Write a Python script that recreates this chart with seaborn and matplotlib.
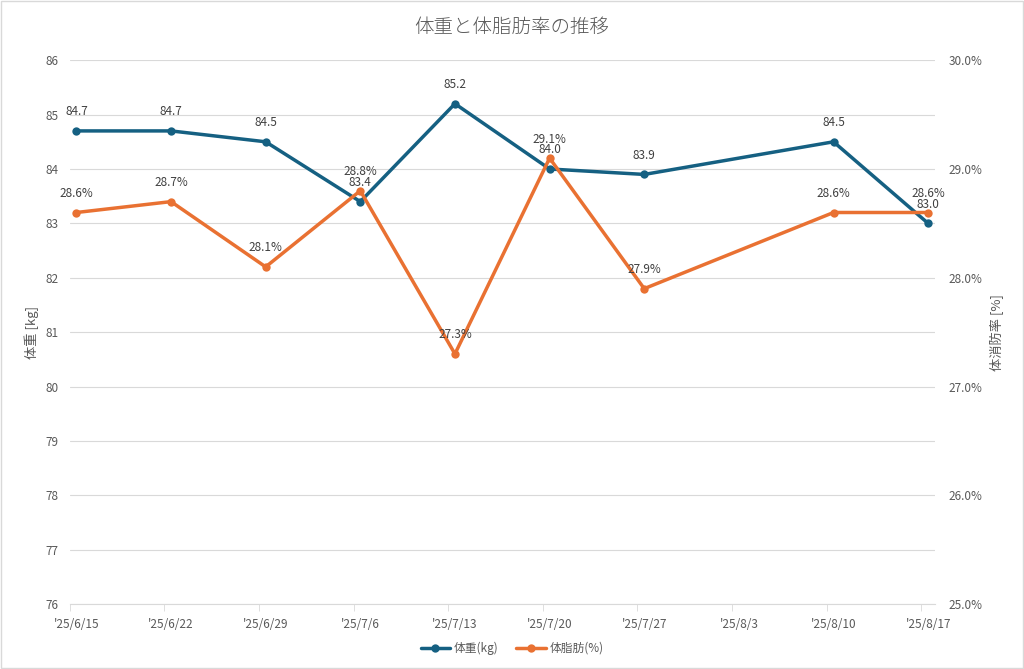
import pandas as pd
import seaborn as sns
import matplotlib.pyplot as plt
from matplotlib.ticker import FuncFormatter, MultipleLocator

# data (no entry for 8/3)
dates = ["2025-06-15", "2025-06-22", "2025-06-29", "2025-07-06", "2025-07-13",
         "2025-07-20", "2025-07-27", "2025-08-10", "2025-08-17"]
weight = [84.7, 84.7, 84.5, 83.4, 85.2, 84.0, 83.9, 84.5, 83.0]
fat = [28.6, 28.7, 28.1, 28.8, 27.3, 29.1, 27.9, 28.6, 28.6]
tick_dates = ["2025-06-15", "2025-06-22", "2025-06-29", "2025-07-06", "2025-07-13",
              "2025-07-20", "2025-07-27", "2025-08-03", "2025-08-10", "2025-08-17"]

start = pd.Timestamp("2025-06-15")
df = pd.DataFrame({"date": pd.to_datetime(dates), "weight": weight, "fat": fat})
df["day"] = (df["date"] - start).dt.days
tick_days = [(pd.Timestamp(d) - start).days for d in tick_dates]
tick_labels = ["'25/{}/{}".format(pd.Timestamp(d).month, pd.Timestamp(d).day) for d in tick_dates]

sns.set_style("white")
plt.rcParams["font.family"] = ["Noto Sans CJK JP", "DejaVu Sans"]

blue = "#156082"
orange = "#E97132"
grey = "#595959"

fig = plt.figure(figsize=(10.24, 6.69), dpi=100)
ax = fig.add_axes([0.068, 0.097, 0.845, 0.813])
ax2 = ax.twinx()

sns.lineplot(data=df, x="day", y="weight", ax=ax, color=blue, marker="o",
             markersize=6, markeredgewidth=0, linewidth=2.5, label="体重(kg)", legend=False)
sns.lineplot(data=df, x="day", y="fat", ax=ax2, color=orange, marker="o",
             markersize=6, markeredgewidth=0, linewidth=2.5, label="体脂肪(%)", legend=False)

for d, w in zip(df["day"], df["weight"]):
    ax.annotate(f"{w:.1f}", (d, w), xytext=(0, 9), textcoords="offset points",
                ha="center", va="bottom", fontsize=8.5, color="#404040")
for d, f in zip(df["day"], df["fat"]):
    ax2.annotate(f"{f:.1f}%", (d, f), xytext=(0, 9), textcoords="offset points",
                 ha="center", va="bottom", fontsize=8.5, color="#404040")

ax.set_xlim(-0.5, 63.5)
ax.set_ylim(76, 86)
ax2.set_ylim(25, 30)
ax.yaxis.set_major_locator(MultipleLocator(1))
ax2.yaxis.set_major_locator(MultipleLocator(1))
ax2.yaxis.set_major_formatter(FuncFormatter(lambda v, p: f"{v:.1f}%"))

ax.set_xticks(tick_days)
ax.set_xticklabels(tick_labels)
ax.set_xticks([t - 0.5 for t in tick_days], minor=True)
ax.tick_params(axis="x", which="major", length=0, pad=10, labelsize=8.5, labelcolor=grey)
ax.tick_params(axis="x", which="minor", length=5, color="#D9D9D9", bottom=True)
ax.tick_params(axis="y", length=0, labelsize=8.5, labelcolor=grey, pad=8)
ax2.tick_params(axis="y", length=0, labelsize=8.5, labelcolor=grey, pad=10)

ax.grid(axis="y", color="#D9D9D9", linewidth=0.8)
ax.set_axisbelow(True)
for a in (ax, ax2):
    for s in ("top", "left", "right"):
        a.spines[s].set_visible(False)
    a.spines["bottom"].set_color("#D9D9D9")
ax2.spines["bottom"].set_visible(False)

ax.set_xlabel("")
ax.set_ylabel("体重 [kg]", fontsize=9.5, color=grey)
ax.yaxis.set_label_coords(-0.035, 0.5)
ax2.set_ylabel("体消防率 [%]", fontsize=9.5, color=grey, rotation=90)
ax2.yaxis.set_label_coords(1.064, 0.5)

fig.suptitle("体重と体脂肪率の推移", y=0.975, fontsize=14, color=grey, fontweight="light")

h1, l1 = ax.get_legend_handles_labels()
h2, l2 = ax2.get_legend_handles_labels()
fig.legend(h1 + h2, l1 + l2, loc="center", bbox_to_anchor=(0.5, 0.031), ncol=2,
           frameon=False, fontsize=8.5, labelcolor=grey, handlelength=2.5,
           columnspacing=1.5, handletextpad=0.3)

fig.patches.append(plt.Rectangle((0.001, 0.001), 0.998, 0.997, transform=fig.transFigure,
                                 fill=False, edgecolor="#D9D9D9", linewidth=1))

fig.savefig("out.png", dpi=100)
